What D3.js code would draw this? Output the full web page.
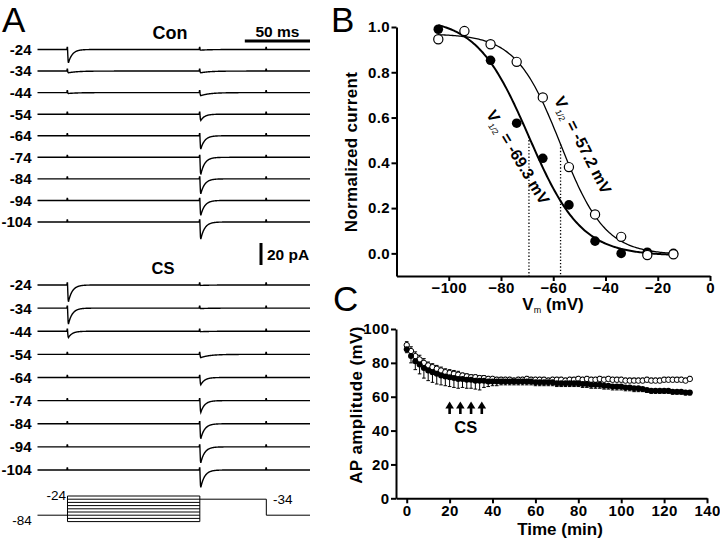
<!DOCTYPE html>
<html><head><meta charset="utf-8">
<script src="https://cdn.jsdelivr.net/npm/d3@7"></script>
<style>
body{margin:0;background:#fff}
svg{display:block}
text{font-family:"Liberation Sans",Arial,Helvetica,sans-serif;fill:#000}
</style>
</head><body>
<svg id="c" width="720" height="539"></svg>
<script>
// ================= DATA =================
// Panel A: conditioning potentials (mV) and peak inward currents (pA)
const stepLabels = ["-24","-34","-44","-54","-64","-74","-84","-94","-104"];
const condVoltages = [-24,-34,-44,-54,-64,-74,-84,-94,-104];
const conOnsetPeak = [12.7, 1.6, 0.8, 0, 0, 0, 0, 0, 0];
const conTestPeak  = [0.6, 1.6, 2.8, 6.0, 12.7, 16.4, 14.3, 14.3, 16.4];
const csOnsetPeak  = [16.0, 15.2, 6.0, 0, 0, 0, 0, 0, 0];
const csTestPeak   = [0.4, 0.4, 0.4, 3.0, 7.0, 11.2, 14.3, 15.2, 16.6];
const protocolTimes = [0, 23, 124.5, 175.5, 209];   // ms
const protocolHold = -84, protocolPost = -34;
const artifactPA = 1.8;

// Panel B: steady-state inactivation
const vmB = [-104,-94,-84,-74,-64,-54,-44,-34,-24,-14];
const filledCur = [0.99, null, 0.853, 0.575, 0.42, 0.214, 0.054, 0.0, 0.005, 0.0];
const openCur   = [0.946, 0.982, 0.924, 0.846, 0.689, 0.381, 0.172, 0.073, -0.007, -0.004];
const fitVhalf  = [-69.3, -57.2];
const fitSlope  = [10, 8.5];
const fitTop    = [1.04, 0.97];
const fitBottom = [-0.01, -0.006];
const fitLabels = ["-69.3 mV", "-57.2 mV"];

// Panel C: AP amplitude vs time
const cTime = [0,2,4,6,8,10,12,14,16,18,20,22,24,26,28,30,32,34,36,38,40,42,44,46,48,50,52,54,56,58,
  60,62,64,66,68,70,72,74,76,78,80,82,84,86,88,90,92,94,96,98,100,102,104,106,108,110,112,114,116,118,
  120,122,124,126,128,130,132];
const openAmp = [90.5,87,84,82,80,78.5,77.5,76.5,75.5,74.5,
  74,73.5,73,72.5,72,71.5,71.5,71,71,70.5,
  70.5,70,70,70,70,69.5,70,70,70.5,70,
  70,70,70,69.5,70,70,70,69.5,70,70,
  70.5,70,70.5,70,70,70.5,70,70.5,70,70,
  70,69.5,69.5,69.5,69.5,69.5,70,69.5,69.5,69.5,
  70,70,70,70,70,69.5,70.5];
const openErr = [2,2.5,2.5,2.5,2.5,2,2,2,2,2,
  2,2,2,1.5,1.5,1.5,1.5,1.5,1.5,1.5,
  1.5,1.5,1.5,1.5,1.5,1.5,1.5,1.5,1.5,1.5,
  1.5,1.5,1.5,1.5,1.5,1.5,1.5,1.5,1.5,1.5,
  1.5,1.5,1.5,1.5,1.5,1.5,1.5,1.5,1.5,1.5,
  1.5,1.5,1.5,1.5,1.5,1.5,1.5,1.5,1.5,1.5,
  1.5,1.5,1.5,1.5,1.5,1.5,1.5];
const filledAmp = [88,84,81,79,77,75.5,74.5,73.5,72.5,72,
  71.5,71,70.5,70.5,70,70,69.5,69.5,69.5,69,
  69,69,69,69,69,69,69,69,69,69,
  68.5,68.5,68.5,68.5,68.5,68,68,68,68,68,
  68,67.5,67.5,67,67,67,66.5,66.5,66,66,
  66,65.5,65.5,65,65,64.5,64,63.5,63.5,63.5,
  63.5,63.5,63,63,63,62.5,62.5];
const filledErr = [2,4,5,5.5,6,6,6,6,5.5,5.5,
  5.5,5.5,5.5,5,5,5,5,5.5,4,3,
  2.5,2.5,2,2,2,2,2,2,2,2,
  2,2,2,2,2,2,2,2,2,2,
  2,2,2,2,2,2,2,2,2,2,
  2,2,2,2,2,1.5,1.5,1.5,1.5,1.5,
  1.5,1.5,1.5,1.5,1.5,1.5,1.5];
const csTimes = [20,25,30,35];

// ================= DRAWING =================
const svg = d3.select("#c");
svg.append("rect").attr("width",720).attr("height",539).attr("fill","#fff");

// panel letters
[["A",2,32],["B",331,32],["C",333,311]].forEach(([t,x,y])=>{
  svg.append("text").attr("x",x).attr("y",y).attr("font-size",35).text(t);
});

// ---------- Panel A ----------
const gA = svg.append("g");
const tA = d3.scaleLinear().domain([protocolTimes[0], protocolTimes[4]]).range([37.5,310]);
const pA = d3.scaleLinear().domain([0,20]).range([0,22]);
const conRows = d3.scalePoint().domain(stepLabels).range([49.5,222]);
const csRows  = d3.scalePoint().domain(stepLabels).range([285,470]);
const sampleT = d3.range(protocolTimes[0], protocolTimes[4]+0.001, 0.25);

function eventCurrent(t, t0, A){
  if (A<=0) return 0;
  const dt = t - t0;
  if (dt < 0) return 0;
  const tau = A > 5 ? 3 : 7, rise = 0.6;
  return dt < rise ? A*dt/rise : A*Math.exp(-(dt-rise)/tau);
}
function artifact(t){
  let a = 0;
  [protocolTimes[1],protocolTimes[2],protocolTimes[3]].forEach(ts=>{ if (t>=ts-0.3 && t<ts+0.2) a += artifactPA; });
  return a;
}
function drawTraces(rows, onset, test){
  stepLabels.forEach((lab,i)=>{
    const y0 = rows(lab);
    const line = d3.line()
      .x(t=>tA(t))
      .y(t=>y0 + pA(eventCurrent(t,protocolTimes[1],onset[i]) + eventCurrent(t,protocolTimes[2],test[i])) - pA(artifact(t)));
    gA.append("path").attr("d", line(sampleT)).attr("fill","none").attr("stroke","#000").attr("stroke-width",1.4);
    gA.append("text").attr("x",31.5).attr("y",y0).attr("dy","0.36em").attr("text-anchor","end")
      .attr("font-size",15).attr("font-weight","bold").text(lab);
  });
}
drawTraces(conRows, conOnsetPeak, conTestPeak);
drawTraces(csRows, csOnsetPeak, csTestPeak);

gA.append("text").attr("x",170).attr("y",39).attr("text-anchor","middle").attr("font-size",18).attr("font-weight","bold").text("Con");
gA.append("text").attr("x",163).attr("y",273.5).attr("text-anchor","middle").attr("font-size",16.5).attr("font-weight","bold").text("CS");
// 50 ms scale bar
gA.append("line").attr("x1",tA(protocolTimes[4]-50)).attr("x2",tA(protocolTimes[4])).attr("y1",41).attr("y2",41)
  .attr("stroke","#000").attr("stroke-width",3);
gA.append("text").attr("x",(tA(protocolTimes[4]-50)+tA(protocolTimes[4]))/2).attr("y",37).attr("text-anchor","middle")
  .attr("font-size",15.5).attr("font-weight","bold").text("50 ms");
// 20 pA scale bar
gA.append("line").attr("x1",261).attr("x2",261).attr("y1",243).attr("y2",243+pA(20))
  .attr("stroke","#000").attr("stroke-width",3);
gA.append("text").attr("x",267).attr("y",260).attr("font-size",15.5).attr("font-weight","bold").text("20 pA");

// voltage protocol
const vP = d3.scaleLinear().domain([-24,-104]).range([496,521.6]);
const pg = gA.append("g").attr("stroke","#000").attr("stroke-width",1).attr("fill","none");
pg.append("path").attr("d", d3.line()([
  [tA(protocolTimes[0]), vP(protocolHold)], [tA(protocolTimes[1]), vP(protocolHold)]
]));
condVoltages.forEach(v=>{
  pg.append("line").attr("x1",tA(protocolTimes[1])).attr("x2",tA(protocolTimes[2])).attr("y1",vP(v)).attr("y2",vP(v));
});
pg.append("line").attr("x1",tA(protocolTimes[1])).attr("x2",tA(protocolTimes[1])).attr("y1",vP(-24)).attr("y2",vP(-104));
pg.append("line").attr("x1",tA(protocolTimes[2])).attr("x2",tA(protocolTimes[2])).attr("y1",vP(-24)).attr("y2",vP(-104));
pg.append("path").attr("d", d3.line()([
  [tA(protocolTimes[2]), vP(protocolPost)], [tA(protocolTimes[3]), vP(protocolPost)],
  [tA(protocolTimes[3]), vP(protocolHold)], [tA(protocolTimes[4]), vP(protocolHold)]
]));
gA.append("text").attr("x",66).attr("y",500).attr("text-anchor","end").attr("font-size",13.5).text("-24");
gA.append("text").attr("x",31.7).attr("y",524.5).attr("text-anchor","end").attr("font-size",13.5).text(String(protocolHold));
gA.append("text").attr("x",273).attr("y",504).attr("font-size",13.5).text(String(protocolPost));

// ---------- Panel B ----------
const gB = svg.append("g");
const xB = d3.scaleLinear().domain([-120,0]).range([396.5,710]);
const yB = d3.scaleLinear().domain([-0.1,1.0]).range([276,27]);
function styleAxis(g){
  g.selectAll(".domain").attr("stroke","#000").attr("stroke-width",2);
  g.selectAll(".tick line").attr("stroke","#000").attr("stroke-width",2);
  g.selectAll(".tick text").attr("font-size",15).attr("font-weight","bold").attr("letter-spacing",0.4)
    .attr("font-family",'"Liberation Sans",Arial,sans-serif').attr("fill","#000");
}
gB.append("g").attr("transform",`translate(0,${yB(-0.1)})`)
  .call(d3.axisBottom(xB).tickValues([-100,-80,-60,-40,-20,0]).tickSize(5).tickSizeOuter(0).tickPadding(1))
  .call(styleAxis);
gB.append("g").attr("transform",`translate(${xB(-120)},0)`)
  .call(d3.axisLeft(yB).tickValues([0,0.2,0.4,0.6,0.8,1.0]).tickFormat(d3.format(".1f")).tickSize(5).tickSizeOuter(0).tickPadding(1.5))
  .call(styleAxis);

const fitFn = i => v => fitBottom[i] + (fitTop[i]-fitBottom[i])/(1+Math.exp((v-fitVhalf[i])/fitSlope[i]));
const vSamples = d3.range(-104, -13.9, 0.5);
[0,1].forEach(i=>{
  const f = fitFn(i);
  gB.append("path").attr("d", d3.line().x(v=>xB(v)).y(v=>yB(f(v)))(vSamples))
    .attr("fill","none").attr("stroke","#000").attr("stroke-width", i===0?2:1.3);
  gB.append("line").attr("x1",xB(fitVhalf[i])).attr("x2",xB(fitVhalf[i]))
    .attr("y1",yB(f(fitVhalf[i]))).attr("y2",yB(-0.1))
    .attr("stroke","#000").attr("stroke-width",1.3).attr("stroke-dasharray","1.3,2");
});
vmB.forEach((v,i)=>{
  if (filledCur[i]!==null) gB.append("circle").attr("cx",xB(v)).attr("cy",yB(filledCur[i])).attr("r",4.8).attr("fill","#000");
});
vmB.forEach((v,i)=>{
  if (openCur[i]!==null) gB.append("circle").attr("cx",xB(v)).attr("cy",yB(openCur[i])).attr("r",4.6)
    .attr("fill","#fff").attr("stroke","#000").attr("stroke-width",1.2);
});
// rotated V1/2 labels
[[518,157,59],[583,145,63]].forEach(([cx,cy,ang],i)=>{
  const t = gB.append("text").attr("transform",`translate(${cx},${cy}) rotate(${ang})`)
    .attr("text-anchor","middle").attr("dy","0.35em").attr("font-size",16).attr("font-weight","bold");
  t.append("tspan").text("V");
  t.append("tspan").attr("font-size",8.5).attr("font-weight","normal").attr("dy","4").text("1/2");
  t.append("tspan").attr("dy","-4").text(" = " + fitLabels[i]);
});
gB.append("text").attr("transform","translate(357,152) rotate(-90)").attr("text-anchor","middle")
  .attr("font-size",17).attr("letter-spacing",0.3).attr("font-weight","bold").text("Normalized current");
const xl = gB.append("text").attr("x",553).attr("y",310).attr("text-anchor","middle").attr("font-size",17).attr("font-weight","bold");
xl.append("tspan").text("V");
xl.append("tspan").attr("font-size",9).attr("font-weight","normal").attr("dy",3).text("m");
xl.append("tspan").attr("dy",-3).text(" (mV)");

// ---------- Panel C ----------
const gC = svg.append("g");
const xC = d3.scaleLinear().domain([-5,140]).range([396,707]);
const yC = d3.scaleLinear().domain([0,100]).range([498.3,329]);
gC.append("g").attr("transform",`translate(0,${yC(0)})`)
  .call(d3.axisBottom(xC).tickValues(d3.range(0,141,20)).tickSize(5).tickSizeOuter(0).tickPadding(2.5))
  .call(styleAxis);
gC.append("g").attr("transform",`translate(${xC(-5)},0)`)
  .call(d3.axisLeft(yC).tickValues(d3.range(0,101,20)).tickSize(5).tickSizeOuter(0).tickPadding(1.5))
  .call(styleAxis);

function errBars(vals, errs, dir){
  const g = gC.append("g").attr("stroke","#000").attr("stroke-width",1);
  cTime.forEach((t,i)=>{
    const x = xC(t), y1 = yC(vals[i]), y2 = yC(vals[i] + dir*errs[i]);
    g.append("line").attr("x1",x).attr("x2",x).attr("y1",y1).attr("y2",y2);
    g.append("line").attr("x1",x-1.8).attr("x2",x+1.8).attr("y1",y2).attr("y2",y2);
  });
}
errBars(openAmp, openErr, 1);
errBars(filledAmp, filledErr, -1);
cTime.forEach((t,i)=>{
  gC.append("circle").attr("cx",xC(t)).attr("cy",yC(openAmp[i])).attr("r",2.7)
    .attr("fill","#fff").attr("stroke","#000").attr("stroke-width",1);
});
cTime.forEach((t,i)=>{
  gC.append("circle").attr("cx",xC(t)).attr("cy",yC(filledAmp[i])).attr("r",3).attr("fill","#000");
});
// CS arrows
csTimes.forEach(t=>{
  const x = xC(t);
  gC.append("path").attr("d",`M${x},401.5 L${x-4.3},408.5 L${x+4.3},408.5 Z`).attr("fill","#000");
  gC.append("line").attr("x1",x).attr("x2",x).attr("y1",408).attr("y2",414).attr("stroke","#000").attr("stroke-width",2.6);
});
gC.append("text").attr("x",xC(d3.mean(csTimes))).attr("y",432.5).attr("text-anchor","middle")
  .attr("font-size",16.5).attr("font-weight","bold").text("CS");
gC.append("text").attr("transform","translate(362,405) rotate(-90)").attr("text-anchor","middle")
  .attr("font-size",17).attr("letter-spacing",0.4).attr("font-weight","bold").text("AP amplitude (mV)");
gC.append("text").attr("x",560).attr("y",535).attr("text-anchor","middle")
  .attr("font-size",17).attr("font-weight","bold").text("Time (min)");
</script>
</body></html>
